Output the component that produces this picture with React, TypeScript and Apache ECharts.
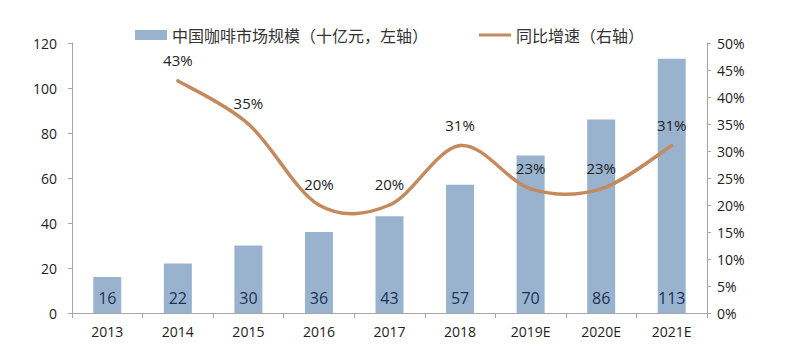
import React, { useEffect, useRef } from "react";
import * as echarts from "echarts";

const categories = ["2013", "2014", "2015", "2016", "2017", "2018", "2019E", "2020E", "2021E"];
const marketSize = [16, 22, 30, 36, 43, 57, 70, 86, 113];
const growth: (number | null)[] = [null, 43, 35, 20, 20, 31, 23, 23, 31];
const barName = "中国咖啡市场规模（十亿元，左轴）";
const lineName = "同比增速（右轴）";

const LINE_COLOR = "#c48a5e";

export default function App() {
  const ref = useRef<HTMLDivElement>(null);
  useEffect(() => {
    const chart = echarts.init(ref.current!, null, { renderer: "svg" });
    const axisLine = { show: true, lineStyle: { color: "#a6a6a6", width: 1 } };
    const axisTick = { show: true, length: 4, lineStyle: { color: "#a6a6a6" } };
    const labelFont = { color: "#222", fontSize: 14, fontFamily: "Open Sans" };

    // Excel-like smoothed segment (Catmull-Rom style) drawn via the axis scales
    const renderSegment = (params: any, api: any) => {
      const i = params.dataIndex;
      const v0 = growth[i];
      const v1 = growth[i + 1];
      if (v0 == null || v1 == null) return null;
      const vp = i - 1 >= 0 && growth[i - 1] != null ? (growth[i - 1] as number) : null;
      const vn = i + 2 < growth.length && growth[i + 2] != null ? (growth[i + 2] as number) : null;
      const p0 = api.coord([i, v0]);
      const p1 = api.coord([i + 1, v1]);
      const pp = vp != null ? api.coord([i - 1, vp]) : p0;
      const pn = vn != null ? api.coord([i + 2, vn]) : p1;
      const t = 1 / 6;
      return {
        type: "bezierCurve",
        shape: {
          x1: p0[0],
          y1: p0[1],
          cpx1: p0[0] + (p1[0] - pp[0]) * t,
          cpy1: p0[1] + (p1[1] - pp[1]) * t,
          cpx2: p1[0] - (pn[0] - p0[0]) * t,
          cpy2: p1[1] - (pn[1] - p0[1]) * t,
          x2: p1[0],
          y2: p1[1],
        },
        style: { stroke: LINE_COLOR, lineWidth: 3.5, fill: "none", lineCap: "round" },
        silent: true,
      };
    };

    chart.setOption({
      animation: false,
      backgroundColor: "#ffffff",
      legend: {
        left: 122,
        top: 14,
        itemGap: 51,
        itemWidth: 32,
        itemHeight: 10,
        textStyle: { fontSize: 16, color: "#333", fontFamily: "Noto Sans CJK SC" },
        data: [
          { name: barName, icon: "rect" },
          {
            name: lineName,
            icon: "path://M0,0 L0.1,0 L0,0.1 Z M0,3.5 L32,3.5 L32,6.5 L0,6.5 Z M0,10 L0.1,10 L0,9.9 Z",
            itemStyle: { color: LINE_COLOR },
          },
        ],
      },
      grid: { left: 64, right: 70, top: 35, bottom: 28, containLabel: false },
      xAxis: {
        type: "category",
        data: categories,
        axisLine,
        axisTick: { ...axisTick, length: 5 },
        axisLabel: { ...labelFont, margin: 11 },
      },
      yAxis: [
        {
          type: "value",
          min: 0,
          max: 120,
          interval: 20,
          splitLine: { show: false },
          axisLine,
          axisTick,
          axisLabel: { ...labelFont, margin: 15 },
        },
        {
          type: "value",
          min: 0,
          max: 50,
          interval: 5,
          position: "right",
          splitLine: { show: false },
          axisLine,
          axisTick,
          axisLabel: { ...labelFont, margin: 10, formatter: "{value}%" },
        },
      ],
      series: [
        {
          name: barName,
          type: "bar",
          data: marketSize,
          barWidth: 28,
          itemStyle: { color: "#99b3cf" },
          label: {
            show: true,
            position: "insideBottom",
            distance: 7,
            color: "#1c3158",
            fontSize: 16,
            fontFamily: "Open Sans",
          },
        },
        {
          name: lineName,
          type: "custom",
          yAxisIndex: 1,
          itemStyle: { color: LINE_COLOR },
          renderItem: renderSegment,
          data: growth.map((v, i) => [i, v == null ? 0 : v]),
          encode: { x: 0, y: 1 },
          z: 3,
        },
        {
          name: "labels",
          type: "line",
          yAxisIndex: 1,
          data: growth,
          symbol: "circle",
          symbolSize: 1,
          showSymbol: true,
          lineStyle: { color: "rgba(0,0,0,0)", width: 0 },
          itemStyle: { color: "rgba(0,0,0,0)" },
          silent: true,
          z: 4,
          label: {
            show: true,
            position: "top",
            distance: 13,
            formatter: "{c}%",
            color: "#222",
            fontSize: 15,
            fontFamily: "Open Sans",
          },
        },
      ],
    });
    return () => chart.dispose();
  }, []);
  return <div ref={ref} style={{ width: 769, height: 333 }} />;
}
